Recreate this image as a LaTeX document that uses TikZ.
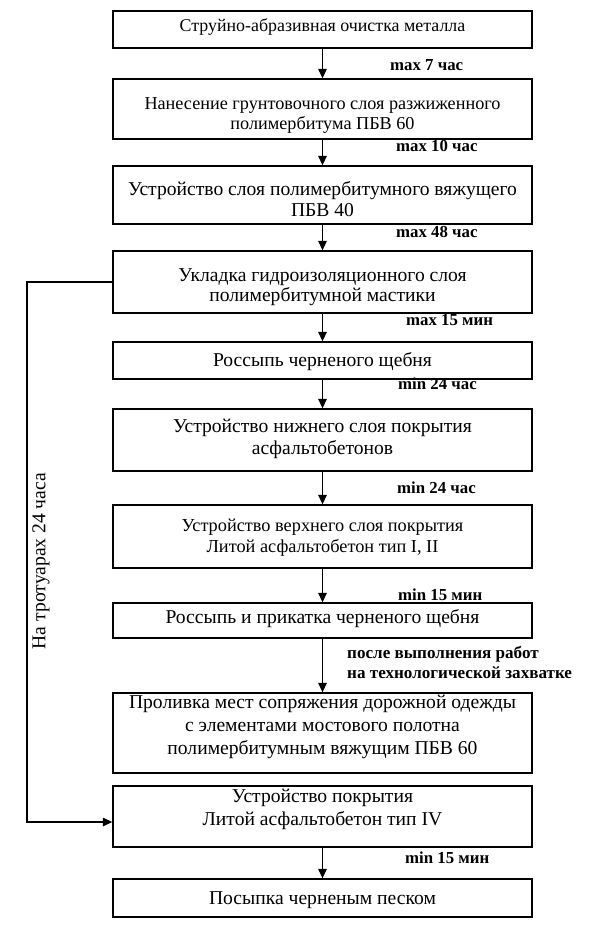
\documentclass[tikz,border=0pt]{standalone}
\usepackage{fontspec}
\setmainfont{Liberation Serif}
\usetikzlibrary{arrows.meta,calc}
\begin{document}
\begin{tikzpicture}[x=1pt,y=-1pt,
  box/.style={draw, line width=1.3pt, minimum width=419pt, inner sep=0pt, anchor=center},
  txt/.style={align=center, font=\fontsize{19.6}{21}\selectfont, inner sep=0pt},
  lbl/.style={font=\fontsize{16.8}{20}\selectfont\bfseries, anchor=west, inner sep=0pt, align=left},
  arr/.style={line width=1.3pt, -{Triangle[length=9.5pt,width=8.5pt]}}]
\useasboundingbox (0,0) rectangle (596,925);
% boxes
\node[box, minimum height=37pt] (b1) at (322.5,29.5) {};
\node[box, minimum height=60pt] (b2) at (322.5,109) {};
\node[box, minimum height=58pt] (b3) at (322.5,195) {};
\node[box, minimum height=62pt] (b4) at (322.5,282) {};
\node[box, minimum height=37pt] (b5) at (322.5,360.5) {};
\node[box, minimum height=62pt] (b6) at (322.5,440) {};
\node[box, minimum height=63pt] (b7) at (322.5,536.5) {};
\node[box, minimum height=35pt] (b8) at (322.5,620.5) {};
\node[box, minimum height=80pt] (b9) at (322.5,733) {};
\node[box, minimum height=61pt] (b10) at (322.5,816.5) {};
\node[box, minimum height=38pt] (b11) at (322.5,898) {};
% texts
\node[txt, font=\fontsize{17.9}{21}\selectfont] (t1) at (322.5,27) {Струйно-абразивная очистка металла};
\node[txt, font=\fontsize{18.2}{19.5}\selectfont] (t2) at (322.5,115.5) {Нанесение грунтовочного слоя разжиженного\\полимербитума ПБВ 60};
\node[txt] (t3) at (322.5,199.5) {Устройство слоя полимербитумного вяжущего\\ПБВ 40};
\node[txt, font=\fontsize{19.6}{20.5}\selectfont] (t4) at (322.5,287) {Укладка гидроизоляционного слоя\\полимербитумной мастики};
\node[txt] (t5) at (322.5,362) {Россыпь черненого щебня};
\node[txt, font=\fontsize{19.6}{22}\selectfont] (t6) at (322.5,439) {Устройство нижнего слоя покрытия\\асфальтобетонов};
\node[txt, font=\fontsize{18.3}{21}\selectfont] (t7) at (322.5,537.5) {Устройство верхнего слоя покрытия\\Литой асфальтобетон тип I, II};
\node[txt] (t8) at (322.5,619) {Россыпь и прикатка черненого щебня};
\node[txt, font=\fontsize{19.6}{23}\selectfont] (t9) at (322.5,727) {Проливка мест сопряжения дорожной одежды\\с элементами мостового полотна\\полимербитумным вяжущим ПБВ 60};
\node[txt, font=\fontsize{19.6}{23}\selectfont] (t10) at (322.5,809.5) {Устройство покрытия\\Литой асфальтобетон тип IV};
\node[txt] (t11) at (322.5,900) {Посыпка черненым песком};
% arrows
\draw[arr] (b1.south) -- (b2.north);
\draw[arr] (b2.south) -- (b3.north);
\draw[arr] (b3.south) -- (b4.north);
\draw[arr] (b4.south) -- (b5.north);
\draw[arr] (b5.south) -- (b6.north);
\draw[arr] (b6.south) -- (b7.north);
\draw[arr] (b7.south) -- (b8.north);
\draw[arr] (b8.south) -- (b9.north);
\draw[arr] (b10.south) -- (b11.north);
% labels
\node[lbl] (l1) at (390,65) {max 7 час};
\node[lbl] (l2) at (396,146) {max 10 час};
\node[lbl] (l3) at (396,232) {max 48 час};
\node[lbl] (l4) at (406,320) {max 15 мин};
\node[lbl] (l5) at (398,384) {min 24 час};
\node[lbl] (l6) at (397,488) {min 24 час};
\node[lbl] (l7) at (398,595) {min 15 мин};
\node[lbl, font=\fontsize{17.1}{20}\selectfont\bfseries] (l8) at (347,662) {после выполнения работ\\на технологической захватке};
\node[lbl] (l9) at (405,858) {min 15 мин};
% side connector
\coordinate (k1) at (27,282);
\coordinate (k2) at (27,822);
\coordinate (e10) at ($(b10.west)+(0,5.5)$);
\draw[arr] (b4.west) -- (k1) -- (k2) -- (e10);
\node[txt, rotate=90] (side) at (41,561) {На тротуарах 24 часа};
\end{tikzpicture}
\end{document}
